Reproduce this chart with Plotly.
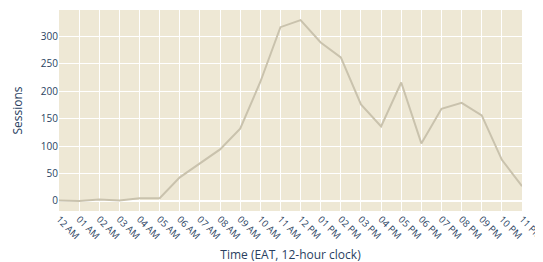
import plotly.graph_objects as go

hours = ["2024-01-01 %02d:00" % h for h in range(24)]
sessions = [1, 0, 2.5, 1, 5, 5, 43, 68, 94, 132, 217, 317, 330, 289, 262, 176, 136, 216, 105, 168, 179, 156, 75, 27]

fig = go.Figure(go.Scatter(x=hours, y=sessions, mode="lines",
                           line=dict(color="#c9c2ad", width=2)))
fig.update_layout(
    width=543, height=262,
    margin=dict(l=51, r=29, t=2, b=59),
    plot_bgcolor="#eee8d5", paper_bgcolor="white",
    font=dict(family="Open Sans, verdana, arial, sans-serif", size=10, color="#2a3f5f"),
    showlegend=False,
)
fig.update_xaxes(type="date", dtick=3600000, tickformat="%I %p", tickangle=45,
                 tickfont=dict(size=9.5),
                 gridcolor="white", showline=False, zeroline=False,
                 automargin=False, ticklabeloverflow="allow",
                 title=dict(text="Time (EAT, 12-hour clock)", font=dict(size=12), standoff=9))
fig.update_yaxes(dtick=50, gridcolor="white", zeroline=True, zerolinecolor="white", zerolinewidth=2,
                 automargin=False,
                 title=dict(text="Sessions", font=dict(size=12)))
fig.write_html("out.html")
